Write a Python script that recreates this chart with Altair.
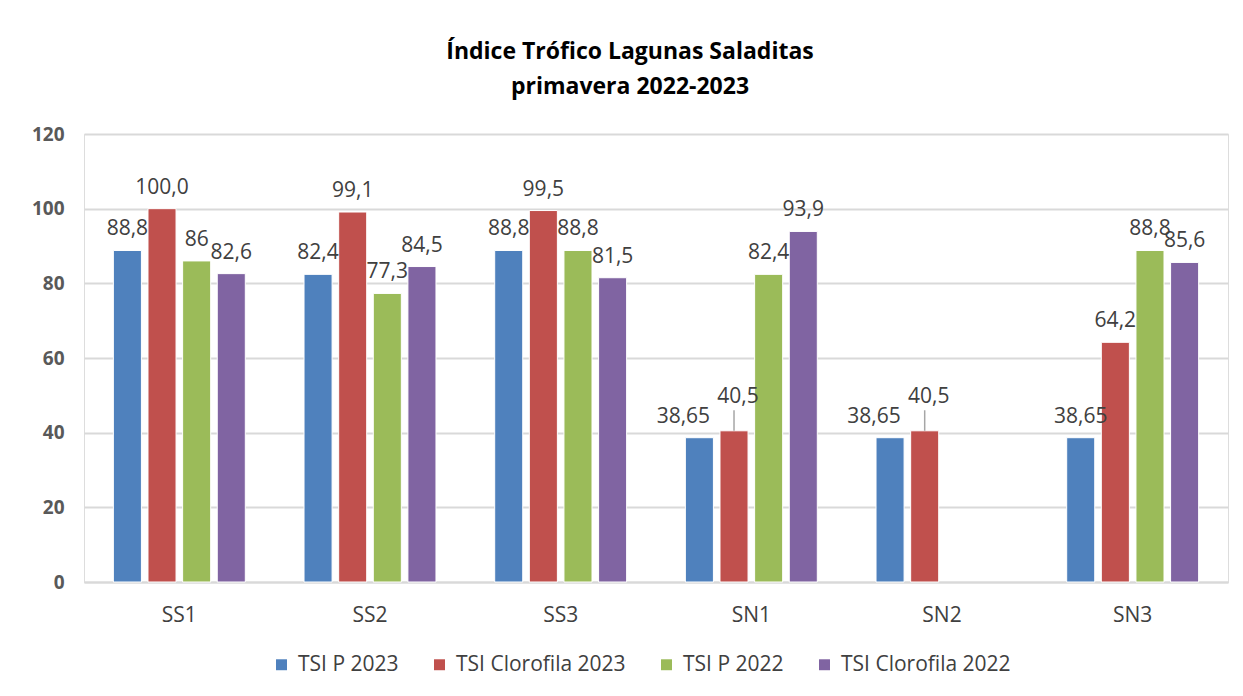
import altair as alt
import pandas as pd

categories = ["SS1", "SS2", "SS3", "SN1", "SN2", "SN3"]
series = ["TSI P 2023", "TSI Clorofila 2023", "TSI P 2022", "TSI Clorofila 2022"]
tsi_p_2023 = [88.8, 82.4, 88.8, 38.65, 38.65, 38.65]
tsi_clorofila_2023 = ["100.0", 99.1, 99.5, 40.5, 40.5, 64.2]
tsi_p_2022 = [86, 77.3, 88.8, 82.4, None, 88.8]
tsi_clorofila_2022 = [82.6, 84.5, 81.5, 93.9, None, 85.6]
colors = ["#4F81BD", "#C0504D", "#9BBB59", "#8064A2"]

all_vals = [tsi_p_2023, tsi_clorofila_2023, tsi_p_2022, tsi_clorofila_2022]
rows = []
for si, (s, vals) in enumerate(zip(series, all_vals)):
    for ci, (c, v) in enumerate(zip(categories, vals)):
        if v is None:
            continue
        label = str(v).replace(".", ",")
        # layout rule: a red label sitting right beside a blue bar of near-equal height is lifted
        crowded = si == 1 and abs(float(v) - float(tsi_p_2023[ci])) < 5
        left_of_crowded = si == 0 and abs(float(tsi_clorofila_2023[ci]) - float(v)) < 5
        kind = "lift" if crowded else ("left" if left_of_crowded else "normal")
        rows.append({"cat": c, "serie": s, "valor": float(v), "etiqueta": label,
                     "tipo": kind, "tope": float(v) + 5.5})
df = pd.DataFrame(rows)

x_enc = alt.X("cat:N", sort=categories, title=None,
              scale=alt.Scale(paddingInner=0.308, paddingOuter=0.154),
              axis=alt.Axis(labelAngle=0, ticks=False, domain=True, domainColor="#d9d9d9",
                            domainWidth=2, labelFontSize=21, labelColor="#404040",
                            labelFont="Open Sans, sans-serif",
                            labelPadding=22, grid=False))
xoff = alt.XOffset("serie:N", sort=series, scale=alt.Scale(paddingInner=0.19, paddingOuter=0))
y_enc = alt.Y("valor:Q", title=None,
              scale=alt.Scale(domain=[0, 120]),
              axis=alt.Axis(values=[0, 20, 40, 60, 80, 100, 120], ticks=False, domain=False,
                            gridColor="#d9d9d9", gridWidth=2, labelFontSize=19,
                            labelFontWeight="bold", labelColor="#595959",
                            labelFont="Open Sans, sans-serif", labelPadding=20))
color_enc = alt.Color("serie:N", sort=series,
                      scale=alt.Scale(domain=series, range=colors),
                      legend=alt.Legend(title=None, orient="none", direction="horizontal",
                                        legendX=187, legendY=520, symbolType="square",
                                        symbolSize=120, symbolStrokeWidth=0,
                                        labelFontSize=21, labelColor="#404040",
                                        labelFont="Open Sans, sans-serif", labelLimit=400,
                                        columnPadding=30, symbolOffset=0, labelOffset=6))

base = alt.Chart(df)
bars = base.mark_bar(stroke="white", strokeWidth=1).encode(
    x=x_enc, xOffset=xoff, y=y_enc, color=color_enc
)
txt_x = alt.X("cat:N", sort=categories)
fs = 21
labels_normal = base.transform_filter(alt.datum.tipo == "normal").mark_text(
    baseline="bottom", dy=-11, fontSize=fs, font="Open Sans, sans-serif", color="#404040"
).encode(x=txt_x, xOffset=xoff, y="valor:Q", text="etiqueta:N")
labels_left = base.transform_filter(alt.datum.tipo == "left").mark_text(
    baseline="bottom", dy=-11, dx=-16, fontSize=fs, font="Open Sans, sans-serif", color="#404040"
).encode(x=txt_x, xOffset=xoff, y="valor:Q", text="etiqueta:N")
labels_lift = base.transform_filter(alt.datum.tipo == "lift").mark_text(
    baseline="bottom", dy=-24, dx=4, fontSize=fs, font="Open Sans, sans-serif", color="#404040"
).encode(x=txt_x, xOffset=xoff, y="valor:Q", text="etiqueta:N")
leaders = base.transform_filter(alt.datum.tipo == "lift").mark_rule(
    color="#a6a6a6", strokeWidth=1.5
).encode(x=txt_x, xOffset=xoff, y="valor:Q", y2="tope:Q")

chart = (bars + leaders + labels_normal + labels_left + labels_lift).properties(
    width=1144, height=448,
    autosize=alt.AutoSizeParams(type="none"),
    padding={"left": 76, "top": 126, "right": 7, "bottom": 106},
    title=alt.TitleParams(["Índice Trófico Lagunas Saladitas", "primavera 2022-2023"],
                          fontSize=23, fontWeight="bold", color="#000000",
                          font="Open Sans, sans-serif",
                          lineHeight=35, offset=26, dx=-26, anchor="middle"),
).configure_view(stroke=None).configure(background="white")

chart.save("out.html", embed_options={"renderer": "svg", "actions": False})
